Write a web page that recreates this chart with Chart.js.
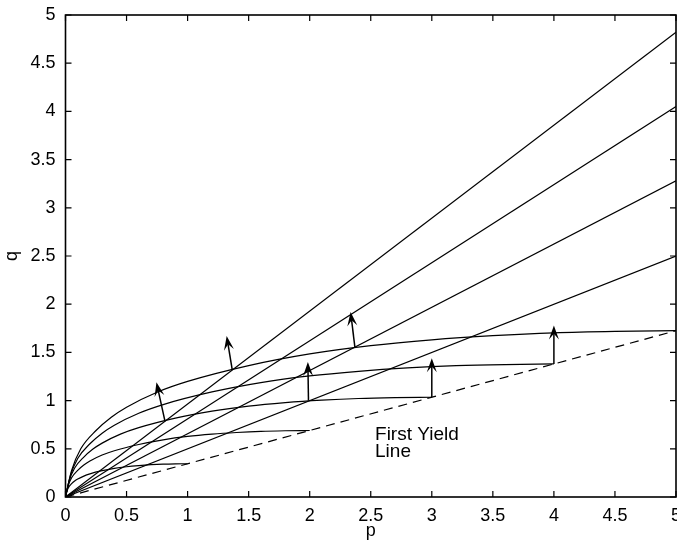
<!DOCTYPE html>
<html>
<head>
<meta charset="utf-8">
<script src="https://cdn.jsdelivr.net/npm/chart.js@4.4.1/dist/chart.umd.min.js"></script>
<style>
  html, body { margin: 0; padding: 0; background: #fff; }
  canvas { display: block; }
</style>
</head>
<body>
<canvas id="yieldChart" width="677" height="545"></canvas>
<script>
const tickValues = [0, 0.5, 1, 1.5, 2, 2.5, 3, 3.5, 4, 4.5, 5];
const tickLabels = ['0', '0.5', '1', '1.5', '2', '2.5', '3', '3.5', '4', '4.5', '5'];

// yield surfaces, each ends on the first yield line
const surface1P = [0, 0.01, 0.025, 0.05, 0.075, 0.1, 0.15, 0.2, 0.3, 0.4, 0.5, 0.6, 0.7, 0.8, 0.9, 1];
const surface1Q = [0, 0.055, 0.100, 0.138, 0.166, 0.186, 0.217, 0.240, 0.273, 0.297, 0.314, 0.326, 0.335, 0.341, 0.344, 0.345];
const surface2P = [0, 0.02, 0.05, 0.1, 0.15, 0.2, 0.3, 0.4, 0.6, 0.8, 1.0, 1.2, 1.4, 1.6, 1.8, 2];
const surface2Q = [0, 0.110, 0.200, 0.276, 0.331, 0.373, 0.435, 0.480, 0.545, 0.593, 0.628, 0.652, 0.669, 0.681, 0.687, 0.690];
const surface3P = [0, 0.03, 0.075, 0.15, 0.225, 0.3, 0.45, 0.6, 0.9, 1.2, 1.5, 1.8, 2.1, 2.4, 2.7, 3];
const surface3Q = [0, 0.166, 0.300, 0.414, 0.497, 0.559, 0.652, 0.719, 0.818, 0.890, 0.942, 0.978, 1.004, 1.022, 1.031, 1.035];
const surface4P = [0, 0.04, 0.1, 0.2, 0.3, 0.4, 0.6, 0.8, 1.2, 1.6, 2.0, 2.4, 2.8, 3.2, 3.6, 4];
const surface4Q = [0, 0.221, 0.400, 0.552, 0.662, 0.745, 0.869, 0.959, 1.090, 1.187, 1.256, 1.304, 1.339, 1.362, 1.374, 1.380];
const surface5P = [0, 0.05, 0.125, 0.25, 0.375, 0.5, 0.75, 1.0, 1.5, 2.0, 2.5, 3.0, 3.5, 4.0, 4.5, 5];
const surface5Q = [0, 0.276, 0.500, 0.690, 0.828, 0.932, 1.087, 1.199, 1.363, 1.484, 1.570, 1.630, 1.673, 1.703, 1.718, 1.725];

// straight stress paths from the origin
const pathEndP = [5, 5, 5, 5];
const pathEndQ = [4.82, 4.05, 3.28, 2.50];

// first yield line (dashed)
const firstYieldP = [0, 5];
const firstYieldQ = [0, 1.725];

// plastic flow arrows
const arrowFromP = [0.815, 1.366, 1.99, 2.37, 3.0, 4.0];
const arrowFromQ = [0.785, 1.317, 1.00, 1.555, 1.035, 1.38];
const arrowToP = [0.745, 1.32, 1.985, 2.335, 3.0, 4.0];
const arrowToQ = [1.19, 1.67, 1.40, 1.92, 1.44, 1.78];

const noteLines = ['First Yield', 'Line'];
const noteP = 2.535;
const noteQ = [0.591, 0.418];

const FONT = '"Liberation Sans", Arial, Helvetica, sans-serif';

function toPoints(ps, qs) {
    return ps.map((p, i) => ({x: p, y: qs[i]}));
}

function curve(ps, qs) {
    return {
        data: toPoints(ps, qs),
        showLine: true,
        borderColor: '#000',
        borderWidth: 1.2,
        pointRadius: 0,
        cubicInterpolationMode: 'monotone',
        fill: false
    };
}

const datasets = [
    curve(surface1P, surface1Q),
    curve(surface2P, surface2Q),
    curve(surface3P, surface3Q),
    curve(surface4P, surface4Q),
    curve(surface5P, surface5Q)
];
pathEndP.forEach((p, i) => {
    datasets.push({
        data: [{x: 0, y: 0}, {x: p, y: pathEndQ[i]}],
        showLine: true, borderColor: '#000', borderWidth: 1.2, pointRadius: 0
    });
});
datasets.push({
    data: toPoints(firstYieldP, firstYieldQ),
    showLine: true, borderColor: '#000', borderWidth: 1.2, pointRadius: 0,
    borderDash: [9, 6]
});

// frame, inward ticks, arrows and the note
const extrasPlugin = {
    id: 'extras',
    afterDatasetsDraw(chart) {
        const ctx = chart.ctx;
        const xs = chart.scales.x, ys = chart.scales.y;
        const a = chart.chartArea;
        ctx.save();
        ctx.strokeStyle = '#000';
        ctx.fillStyle = '#000';

        // arrows
        ctx.lineWidth = 1.5;
        arrowFromP.forEach((p, i) => {
            const x0 = xs.getPixelForValue(p), y0 = ys.getPixelForValue(arrowFromQ[i]);
            const x1 = xs.getPixelForValue(arrowToP[i]), y1 = ys.getPixelForValue(arrowToQ[i]);
            const ang = Math.atan2(y1 - y0, x1 - x0);
            const len = 14, half = 5;
            const ux = Math.cos(ang), uy = Math.sin(ang);
            ctx.beginPath();
            ctx.moveTo(x0, y0);
            ctx.lineTo(x1 - ux * 8, y1 - uy * 8);
            ctx.stroke();
            ctx.beginPath();
            ctx.moveTo(x1, y1);
            ctx.lineTo(x1 - ux * len - uy * half, y1 - uy * len + ux * half);
            ctx.lineTo(x1 - ux * len * 0.6, y1 - uy * len * 0.6);
            ctx.lineTo(x1 - ux * len + uy * half, y1 - uy * len - ux * half);
            ctx.closePath();
            ctx.fill();
        });

        // frame
        ctx.lineWidth = 1.6;
        ctx.strokeRect(a.left, a.top, a.right - a.left, a.bottom - a.top);
        ctx.lineWidth = 1.2;
        const tl = 6;
        ctx.beginPath();
        tickValues.forEach(v => {
            const x = xs.getPixelForValue(v);
            ctx.moveTo(x, a.bottom); ctx.lineTo(x, a.bottom - tl);
            ctx.moveTo(x, a.top); ctx.lineTo(x, a.top + tl);
            const y = ys.getPixelForValue(v);
            ctx.moveTo(a.left, y); ctx.lineTo(a.left + tl, y);
            ctx.moveTo(a.right, y); ctx.lineTo(a.right - tl, y);
        });
        ctx.stroke();

        // note
        ctx.font = '19px ' + FONT;
        ctx.textAlign = 'left';
        ctx.textBaseline = 'alphabetic';
        noteLines.forEach((t, i) => {
            ctx.fillText(t, xs.getPixelForValue(noteP), ys.getPixelForValue(noteQ[i]));
        });
        ctx.restore();
    }
};

const tickFont = {family: FONT, size: 18};
const labelFor = v => {
    const i = tickValues.indexOf(v);
    return i >= 0 ? tickLabels[i] : '';
};

new Chart(document.getElementById('yieldChart').getContext('2d'), {
    type: 'scatter',
    data: {datasets: datasets},
    plugins: [extrasPlugin],
    options: {
        responsive: false,
        animation: false,
        devicePixelRatio: 1,
        layout: {autoPadding: false, padding: {top: 15, right: 1, left: 0, bottom: 0}},
        plugins: {legend: {display: false}, tooltip: {enabled: false}},
        scales: {
            x: {
                type: 'linear', min: 0, max: 5,
                afterBuildTicks: s => { s.ticks = tickValues.map(v => ({value: v})); },
                afterFit: s => { s.height = 48; s.paddingLeft = 0; s.paddingRight = 0; },
                grid: {display: false, drawTicks: false},
                border: {display: false},
                ticks: {color: '#000', font: tickFont, padding: 8, maxRotation: 0, autoSkip: false, callback: labelFor},
                title: {display: true, text: 'p', color: '#000', font: tickFont, padding: {top: 0, bottom: 3}}
            },
            y: {
                type: 'linear', min: 0, max: 5,
                afterBuildTicks: s => { s.ticks = tickValues.map(v => ({value: v})); },
                afterFit: s => { s.width = 65.5; s.paddingTop = 0; s.paddingBottom = 0; },
                grid: {display: false, drawTicks: false},
                border: {display: false},
                ticks: {color: '#000', font: tickFont, padding: 10, autoSkip: false, callback: labelFor},
                title: {display: true, text: 'q', color: '#000', font: tickFont, padding: {top: 1, bottom: 0}}
            }
        }
    }
});
</script>
</body>
</html>
